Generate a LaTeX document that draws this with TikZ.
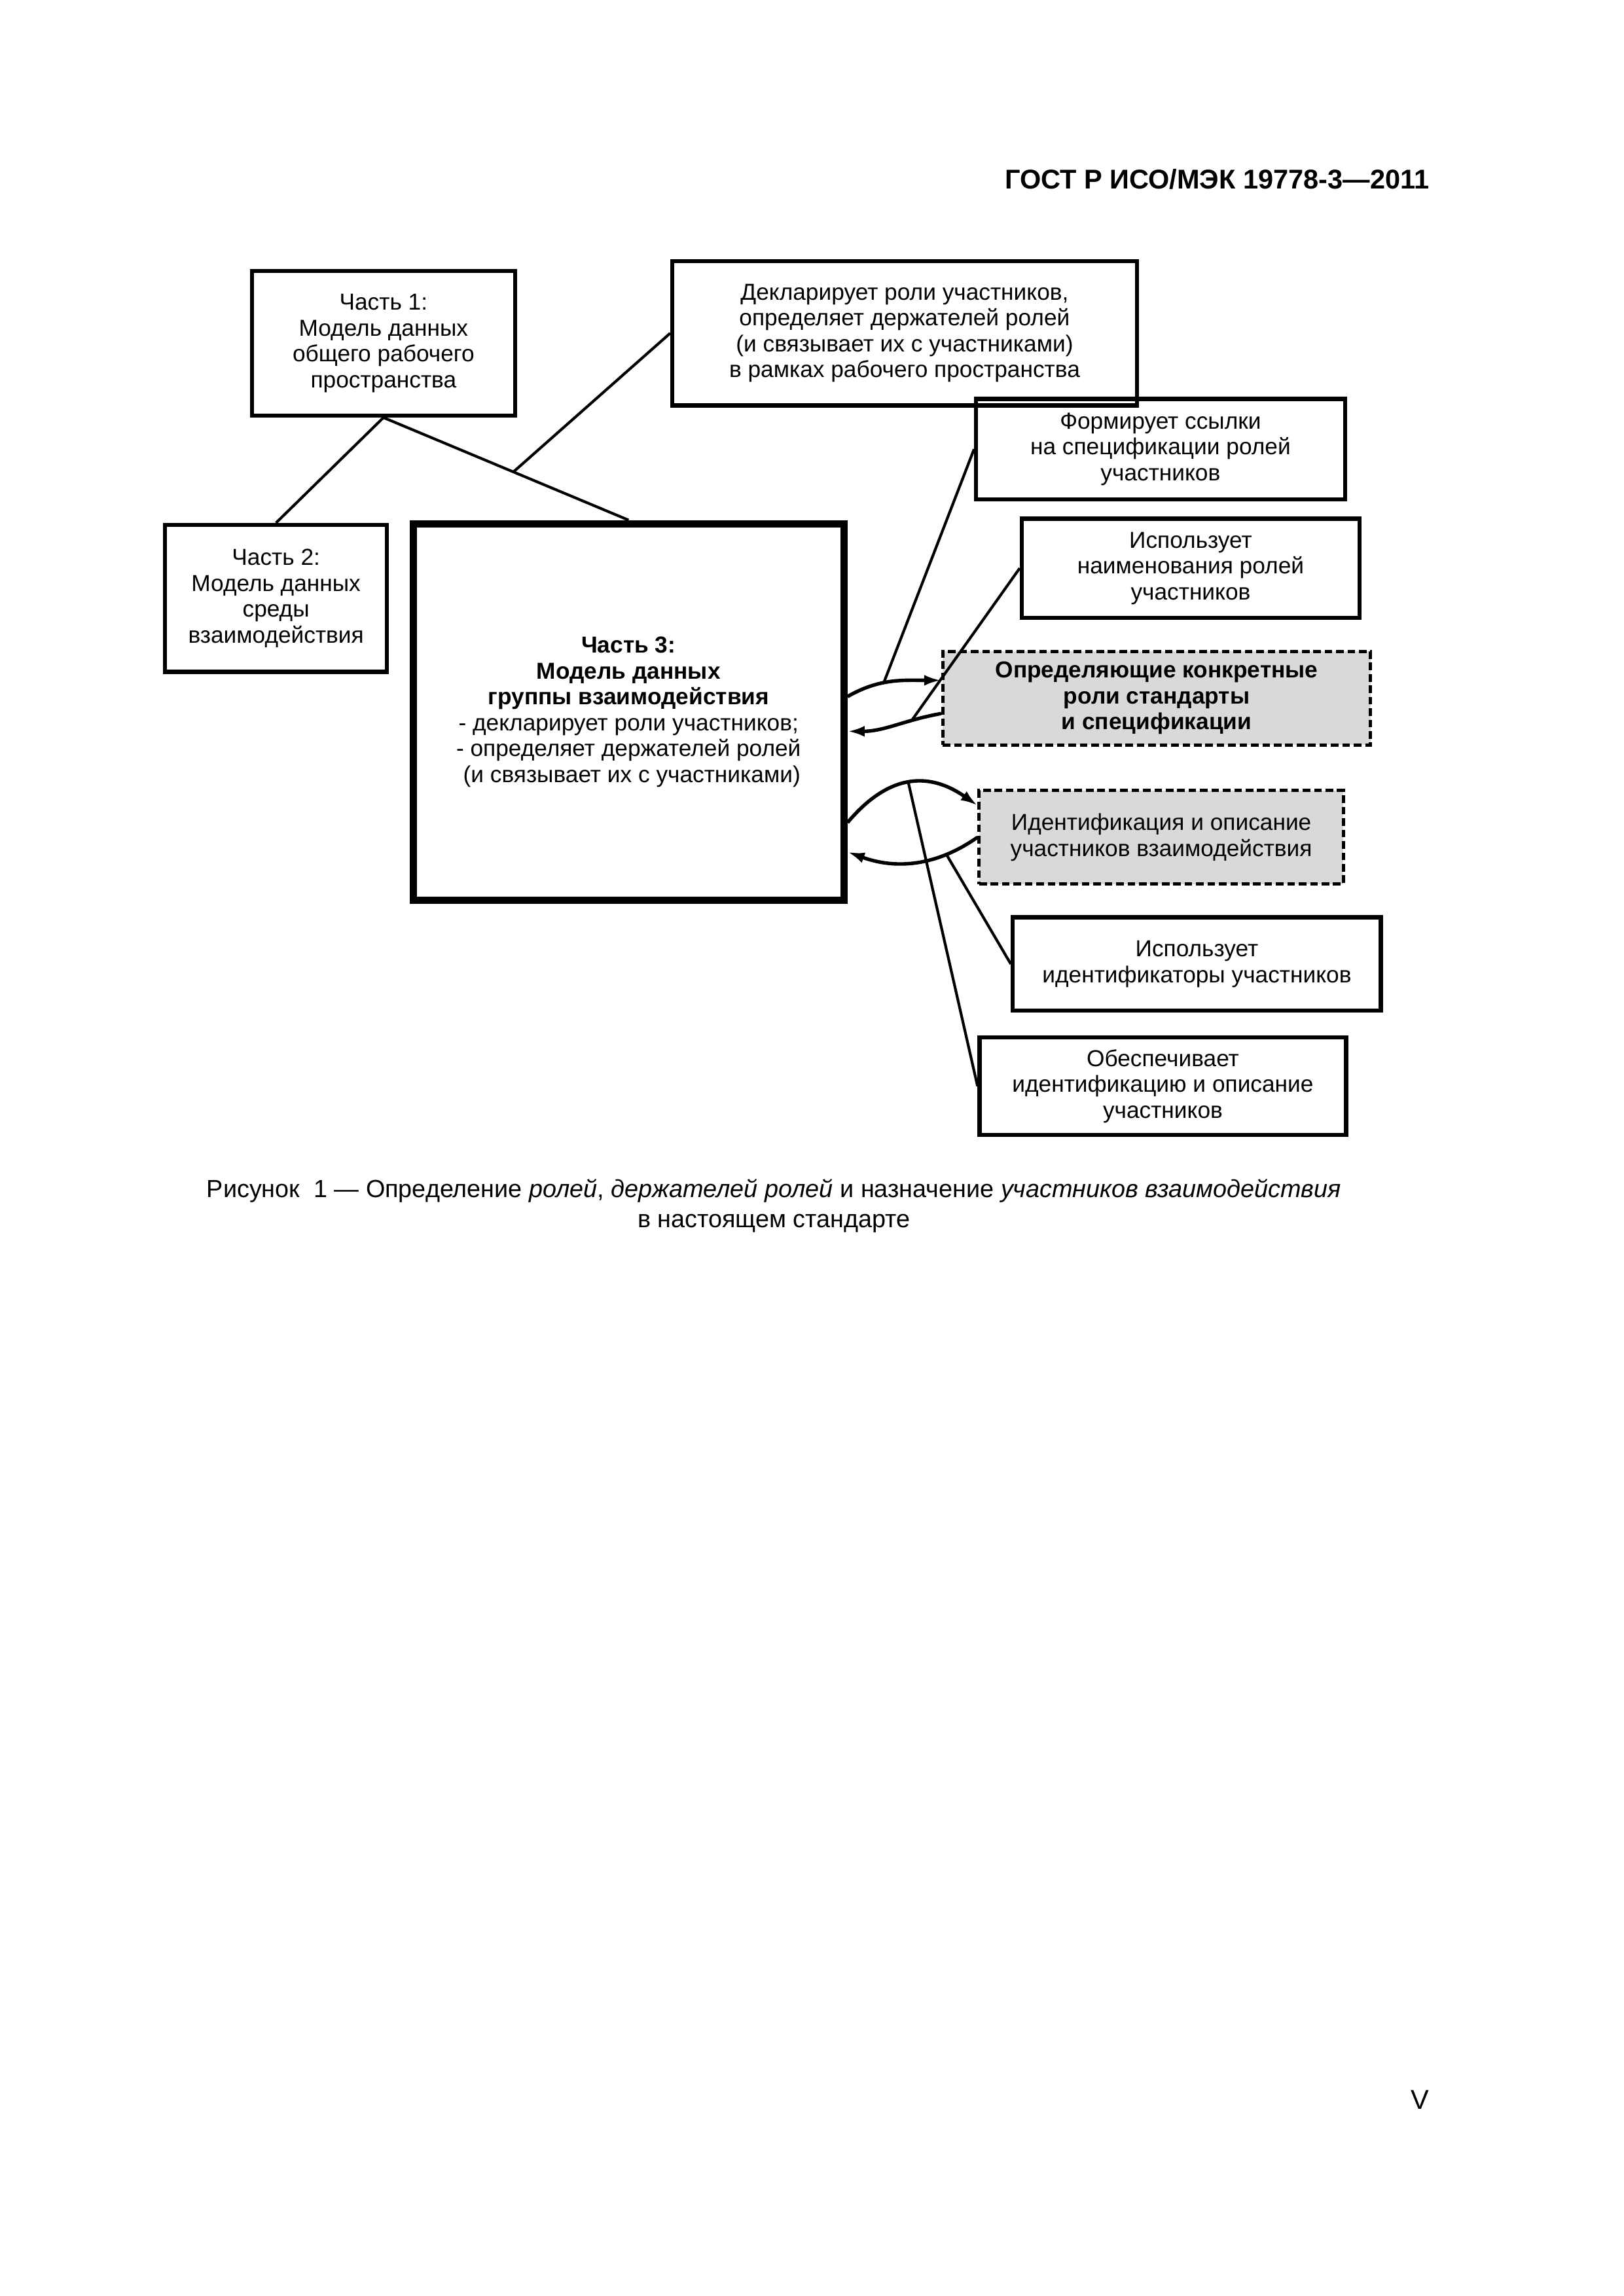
\documentclass[tikz,border=0pt]{standalone}
\usepackage{fontspec}
\setmainfont{Liberation Sans}
\usepackage{tikz}
\usetikzlibrary{positioning, arrows.meta}
\definecolor{boxgray}{RGB}{217,217,217}

\begin{document}
\begin{tikzpicture}[
    partbox/.style={rectangle, draw, line width=1.5pt, align=center, inner sep=0pt, font=\fontsize{8.5}{9.5}\selectfont},
    mainbox/.style={partbox, line width=2.7pt},
    extbox/.style={partbox, dash pattern=on 2.8pt off 1.4pt, line width=1.2pt, fill=boxgray},
    link/.style={line width=1pt},
    arrow/.style={-{Latex[length=2.2mm,width=1.4mm]}, line width=1.3pt}
]
\useasboundingbox (0,0) rectangle (21,-29.7);

\node[anchor=east, inner sep=0pt, font=\fontsize{10}{12}\selectfont\bfseries] (header) at (18.49,-2.32) {ГОСТ Р ИСО/МЭК 19778-3—2011};

\node[partbox, minimum width=3.40cm, minimum height=1.87cm] (part1) at (4.96,-4.44) {Часть 1:\\Модель данных\\общего рабочего\\пространства};
\node[partbox, minimum width=6.01cm, minimum height=1.87cm] (decl) at (11.70,-4.31) {Декларирует роли участников,\\определяет держателей ролей\\(и связывает их с участниками)\\в рамках рабочего пространства};
\node[partbox, minimum width=2.87cm, minimum height=1.90cm] (part2) at (3.57,-7.74) {Часть 2:\\Модель данных\\среды\\взаимодействия};
\node[mainbox, minimum width=5.57cm, minimum height=4.87cm] (part3) at (8.13,-9.21) {\textbf{Часть 3:}\\\textbf{Модель данных}\\\textbf{группы взаимодействия}\\- декларирует роли участников;\\- определяет держателей ролей\\\ (и связывает их с участниками)};

\node[partbox, minimum width=4.77cm, minimum height=1.30cm] (form) at (15.01,-5.81) {Формирует ссылки\\на спецификации ролей\\участников};
\node[partbox, minimum width=4.37cm, minimum height=1.28cm] (names) at (15.40,-7.35) {Использует\\наименования ролей\\участников};
\node[extbox, minimum width=5.53cm, minimum height=1.21cm] (roles) at (14.96,-9.03) {\textbf{Определяющие конкретные}\\\textbf{роли стандарты}\\\textbf{и спецификации}};
\node[extbox, minimum width=4.71cm, minimum height=1.21cm] (ident) at (15.02,-10.83) {Идентификация и описание\\участников взаимодействия};
\node[partbox, minimum width=4.76cm, minimum height=1.21cm] (ids) at (15.48,-12.47) {Использует\\идентификаторы участников};
\node[partbox, minimum width=4.74cm, minimum height=1.26cm] (prov) at (15.04,-14.05) {Обеспечивает\\идентификацию и описание\\участников};

\node[align=center, font=\fontsize{9.1}{11}\selectfont] (caption) at (10.01,-15.60) {Рисунок~~1 — Определение \textit{ролей}, \textit{держателей ролей} и назначение \textit{участников взаимодействия}\\в настоящем стандарте};
\node[anchor=east, inner sep=0pt, font=\fontsize{10}{12}\selectfont] (pagenum) at (18.49,-27.16) {V};

\draw[link] (part1.south) -- (part2.north);
\draw[link] (part1.south) -- coordinate[pos=0.53] (split) (part3.north);
\draw[link] (decl.west) -- (split);

\draw[arrow] ([yshift=0.2cm]part3.east) to[out=30, in=180] coordinate[pos=0.4] (rolesin) ([yshift=0.23cm]roles.west);
\draw[arrow] ([yshift=-0.2cm]roles.west) to[out=190, in=0] coordinate[pos=0.3] (rolesout) ([yshift=-0.25cm]part3.east);
\draw[arrow] ([yshift=-1.43cm]part3.east) to[out=50, in=145, looseness=1.2] coordinate[pos=0.5] (identin) ([yshift=0.41cm]ident.west);
\draw[arrow] (ident.west) to[out=215, in=-20] coordinate[pos=0.25] (identout) ([yshift=-1.81cm]part3.east);

\draw[link] (form.west) -- (rolesin);
\draw[link] (names.west) -- (rolesout);
\draw[link] (ids.west) -- (identout);
\draw[link] (prov.west) -- (identin);

\end{tikzpicture}
\end{document}
